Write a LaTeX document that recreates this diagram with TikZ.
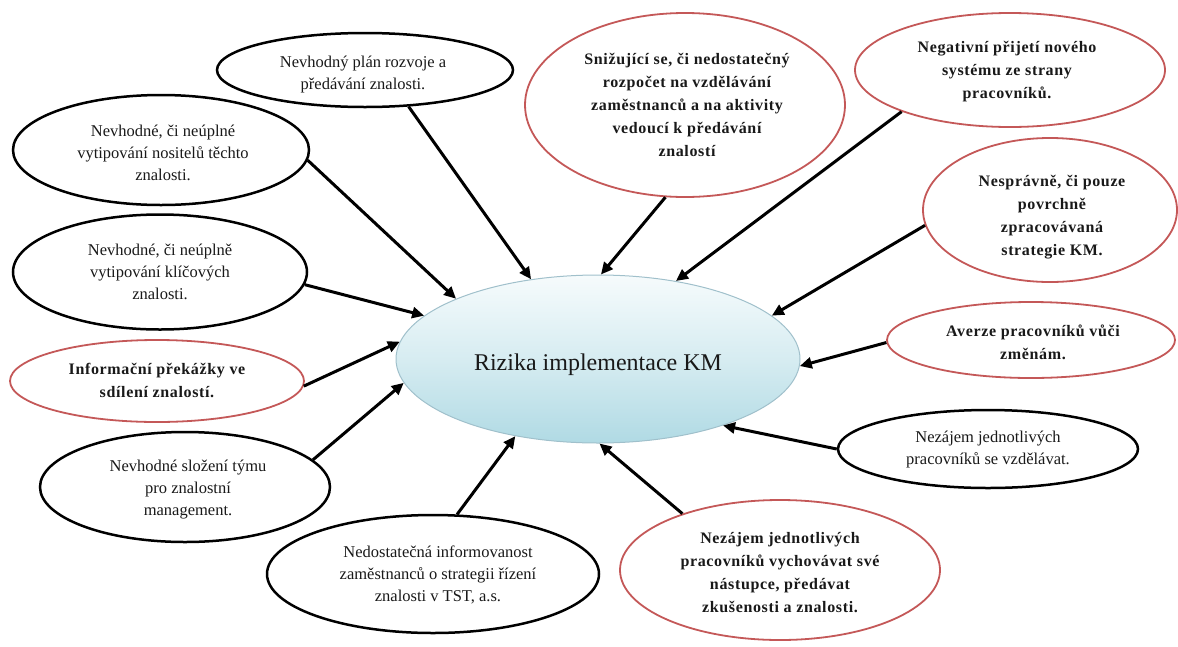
\documentclass[tikz,border=0pt]{standalone}
\usepackage{fontspec}
\setmainfont{Liberation Serif}
\usetikzlibrary{shapes.geometric,arrows.meta}
\definecolor{riskred}{RGB}{196,88,88}
\definecolor{coreedge}{RGB}{160,192,203}
\definecolor{coretop}{RGB}{246,251,252}
\definecolor{corebot}{RGB}{176,218,228}
\definecolor{ink}{RGB}{25,25,25}
\begin{document}
\begin{tikzpicture}[x=1pt,y=-1pt,
  oval/.style={ellipse, draw=black, fill=white, inner sep=0pt, line width=2.5pt},
  redoval/.style={ellipse, draw=riskred, fill=white, inner sep=0pt, line width=1.8pt},
  txt/.style={align=center, text=ink, inner sep=0pt, font=\fontsize{16.5}{22}\selectfont},
  btxt/.style={align=center, text=ink, inner sep=0pt,
               font=\fontsize{16}{23}\selectfont\bfseries\addfontfeature{LetterSpace=4}},
  link/.style={line width=3pt, draw=black, -{Triangle[length=12pt,width=11pt]}}]
\useasboundingbox (0,0) rectangle (1178,646);

% central risk ellipse
\node[ellipse, draw=coreedge, line width=1pt, top color=coretop, bottom color=corebot,
      middle color=corebot!45!coretop, inner sep=0pt,
      minimum width=404pt, minimum height=168pt] (c) at (598,359) {};
\node[inner sep=0pt, text=ink, font=\fontsize{24}{28}\selectfont] (ct) at (598,365) {Rizika implementace KM};

% surrounding risk ellipses
\node[oval, minimum width=296pt, minimum height=110pt] (e12) at (161,150) {};
\node[txt] (t12) at (163,153) {Nevhodné, či neúplné\\vytipování nositelů těchto\\znalosti.};

\node[oval, minimum width=296pt, minimum height=74pt] (e1) at (365,70) {};
\node[txt] (t1) at (363,75) {Nevhodný plán rozvoje a\\předávání znalosti.};

\node[redoval, minimum width=320pt, minimum height=184pt] (e2) at (685,105) {};
\node[btxt] (t2) at (687,105) {Snižující se, či nedostatečný\\rozpočet na vzdělávání\\zaměstnanců a na aktivity\\vedoucí k předávání\\znalostí};

\node[redoval, minimum width=310pt, minimum height=114pt] (e3) at (1010,70) {};
\node[btxt] (t3) at (1007,72) {Negativní přijetí nového\\systému ze strany\\pracovníků.};

\node[redoval, minimum width=254pt, minimum height=144pt] (e4) at (1050,210) {};
\node[btxt] (t4) at (1052,217) {Nesprávně, či pouze\\povrchně\\zpracovávaná\\strategie KM.};

\node[redoval, minimum width=288pt, minimum height=76pt] (e5) at (1031,340) {};
\node[btxt] (t5) at (1033,342) {Averze pracovníků vůči\\změnám.};

\node[oval, minimum width=300pt, minimum height=78pt] (e6) at (988,449) {};
\node[txt] (t6) at (988,450) {Nezájem jednotlivých\\pracovníků se vzdělávat.};

\node[redoval, minimum width=320pt, minimum height=140pt] (e7) at (780,570) {};
\node[btxt] (t7) at (780,573) {Nezájem jednotlivých\\pracovníků vychovávat své\\nástupce, předávat\\zkušenosti a znalosti.};

\node[oval, minimum width=332pt, minimum height=118pt] (e8) at (433,574) {};
\node[txt] (t8) at (438,575) {Nedostatečná informovanost\\zaměstnanců o strategii řízení\\znalosti v TST, a.s.};

\node[oval, minimum width=290pt, minimum height=110pt] (e9) at (185,487) {};
\node[txt] (t9) at (188,490) {Nevhodné složení týmu\\pro znalostní\\management.};

\node[redoval, minimum width=294pt, minimum height=82pt] (e10) at (157,381) {};
\node[btxt] (t10) at (157,380) {Informační překážky ve\\sdílení znalostí.};

\node[oval, minimum width=294pt, minimum height=115pt] (e11) at (160,272) {};
\node[txt] (t11) at (160,272) {Nevhodné, či neúplně\\vytipování klíčových\\znalosti.};

% arrows into the central ellipse
\draw[link] (e12.-4)   -- (c.157);
\draw[link] (e1.-40)   -- (c.130);
\draw[link] (e2.-102)  -- (c.88);
\draw[link] (e3.-159)  -- (c.45);
\draw[link] (e4.187)   -- (c.14);
\draw[link] (e5.181)   -- (c.-2);
\draw[link] (e6.180)   -- (c.-28);
\draw[link] (e7.150)   -- (c.-89);
\draw[link] (e8.68)    -- (c.-137);
\draw[link] (e9.12)    -- (c.187);
\draw[link] (e10.-2)   -- (c.175);
\draw[link] (e11.-5)   -- (c.166);
\end{tikzpicture}
\end{document}
